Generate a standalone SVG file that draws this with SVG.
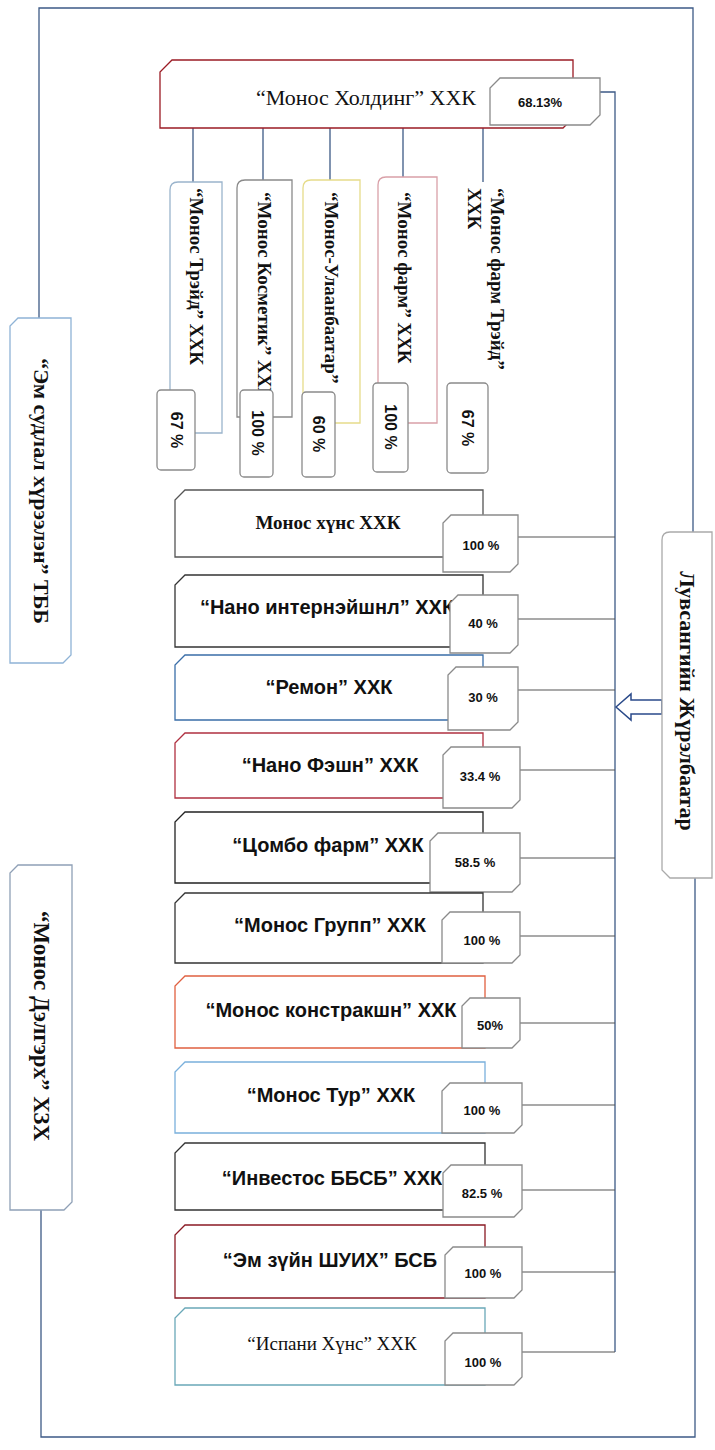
<svg xmlns="http://www.w3.org/2000/svg" width="715" height="1450" viewBox="0 0 715 1450">
<style>
.nb{fill:#fff;stroke-width:1.3}
.pb{fill:#fff;stroke:#8a8a8a;stroke-width:1.3}
.ln{fill:none;stroke:#3d5a86;stroke-width:1.3}
.lg{fill:none;stroke:#555;stroke-width:1.2}
.ls{font-family:"Liberation Sans",Arial,sans-serif;font-weight:bold;font-size:20px;fill:#111;text-anchor:middle;dominant-baseline:central}
.sr{font-family:"Liberation Serif","Times New Roman",serif;font-weight:bold;fill:#111}
.srn{font-family:"Liberation Serif","Times New Roman",serif;font-weight:normal;fill:#111}
.pc{font-family:"Liberation Sans",Arial,sans-serif;font-weight:bold;font-size:13px;fill:#111;text-anchor:middle;dominant-baseline:central}
.vp{font-family:"Liberation Sans",Arial,sans-serif;font-weight:bold;font-size:16px;fill:#111;text-anchor:middle;dominant-baseline:central}
</style>
<g id="connectors">
<path class="ln" d="M39,318 V8 H693 V532"/>
<path class="ln" d="M695,878 V1437 H41 V1210"/>
<path class="ln" d="M600,92 H615 V1352"/>
<path class="ln" d="M193,128 V182 M263,128 V180 M330,128 V180 M403,128 V177 M483,128 V182"/>
<path class="lg" d="M518,537 H615 M518,619 H615 M518,690 H615 M520,770 H615 M520,858 H615 M520,936 H615 M520,1023 H615 M522,1105 H615 M522,1190 H615 M522,1272 H615 M522,1352 H615"/>
<polygon points="616,707 631,694 631,700 662,700 662,714 631,714 631,720" fill="#fff" stroke="#2a4a8a" stroke-width="1.5"/>
</g>
<g id="monos-holding">
<path class="nb" d="M172,60 H573 V118 L563,128 H160 V72 Z" stroke="#9b1b24" stroke-width="2"/>
<text class="srn" x="366" y="97" font-size="22" text-anchor="middle" dominant-baseline="central">“Монос Холдинг” ХХК</text>
<path class="pb" d="M500,78 H600 V115 L590,125 H490 V88 Z"/>
<text x="540" y="102" class="pc" font-size="15">68.13%</text>
</g>
<g id="monos-treid">
<path class="nb" stroke="#9ab4cc" d="M170,190 Q170,182 178,182 H222 V433 H170 Z"/>
<text class="sr" font-size="19" transform="translate(196,188) rotate(90)" dominant-baseline="central">“Монос Трэйд” ХХК</text>
<rect class="pb" stroke="#7aa2c8" x="157" y="390" width="38" height="80" rx="4"/>
<text class="vp" transform="translate(176,430) rotate(90)">67 %</text>
</g>
<g id="monos-kosmetik">
<path class="nb" stroke="#8a8a8a" d="M237,188 Q237,180 245,180 H292 V417 H237 Z"/>
<text class="sr" font-size="19" transform="translate(264,192) rotate(90)" dominant-baseline="central">“Монос Косметик” ХХК</text>
<rect class="pb" stroke="#7aa2c8" x="240" y="390" width="33" height="87" rx="4"/>
<text class="vp" transform="translate(257,433) rotate(90)">100 %</text>
</g>
<g id="monos-ulaanbaatar">
<path class="nb" stroke="#e6dc8a" d="M303,188 Q303,180 311,180 H360 V423 H303 Z"/>
<text class="sr" font-size="19" transform="translate(331,192) rotate(90)" dominant-baseline="central">“Монос-Улаанбаатар”</text>
<rect class="pb" stroke="#7aa2c8" x="302" y="392" width="33" height="85" rx="4"/>
<text class="vp" transform="translate(318,434) rotate(90)">60 %</text>
</g>
<g id="monos-farm">
<path class="nb" stroke="#d9a0a8" d="M378,185 Q378,177 386,177 H437 V423 H378 Z"/>
<text class="sr" font-size="19" transform="translate(404,192) rotate(90)" dominant-baseline="central">“Монос фарм” ХХК</text>
<rect class="pb" stroke="#7aa2c8" x="373" y="383" width="35" height="89" rx="4"/>
<text class="vp" transform="translate(390,427) rotate(90)">100 %</text>
</g>
<g id="monos-farm-treid">
<text class="sr" font-size="19" transform="translate(497,188) rotate(90)" dominant-baseline="central">“Монос фарм Трэйд”</text>
<text class="sr" font-size="19" transform="translate(474,188) rotate(90)" dominant-baseline="central">ХХК</text>
<rect class="pb" stroke="#7aa2c8" x="447" y="383" width="41" height="90" rx="4"/>
<text class="vp" transform="translate(467,428) rotate(90)">67 %</text>
</g>
<g id="em-sudlal">
<path class="nb" stroke="#8fb3d6" d="M18,318 H71 V655 L63,663 H10 V326 Z"/>
<text class="sr" font-size="22" transform="translate(41,491) rotate(90)" text-anchor="middle" dominant-baseline="central">“Эм судлал хүрээлэн” ТББ</text>
</g>
<g id="monos-delgerekh">
<path class="nb" stroke="#8fa0b6" d="M18,865 H72 V1202 L64,1210 H10 V873 Z"/>
<text class="sr" font-size="23" transform="translate(41,1026) rotate(90)" text-anchor="middle" dominant-baseline="central">“Монос Дэлгэрх” ХЗХ</text>
</g>
<g id="luvsan">
<path class="nb" stroke="#aaa" d="M670,532 H712 V878 H670 L662,870 V540 Q662,532 670,532 Z"/>
<text class="sr" font-size="22" transform="translate(687,701) rotate(90)" text-anchor="middle" dominant-baseline="central">Лувсангийн Жүрэлбаатар</text>
</g>
<g id="n1">
<path class="nb" stroke="#555" d="M185,490 H483 V557 H175 V500 Z"/>
<text class="sr" x="328" y="522" font-size="19" text-anchor="middle" dominant-baseline="central">Монос хүнс ХХК</text>
<path class="pb" d="M451,515 H518 V564 L510,572 H443 V523 Z"/>
<text class="pc" x="481" y="545">100 %</text>
</g>
<g id="n2">
<path class="nb" stroke="#333" d="M185,575 H483 V647 H175 V585 Z"/>
<text class="ls" x="327" y="607">“Нано интернэйшнл” ХХК</text>
<path class="pb" stroke="#444" d="M458,595 H518 V645 L510,653 H450 V603 Z"/>
<text class="pc" x="483" y="623">40 %</text>
</g>
<g id="n3">
<path class="nb" stroke="#3a6ea8" d="M185,655 H483 V720 H175 V665 Z"/>
<text class="ls" x="329" y="687">“Ремон” ХХК</text>
<path class="pb" stroke="#3a6ea8" d="M456,667 H518 V722 L510,730 H448 V675 Z"/>
<text class="pc" x="483" y="697">30 %</text>
</g>
<g id="n4">
<path class="nb" stroke="#b03040" d="M185,733 H483 V798 H175 V743 Z"/>
<text class="ls" x="330" y="765">“Нано Фэшн”  ХХК</text>
<path class="pb" d="M451,747 H520 V800 L512,808 H443 V755 Z"/>
<text class="pc" x="480" y="776">33.4 %</text>
</g>
<g id="n5">
<path class="nb" stroke="#222" d="M185,812 H483 V883 H175 V822 Z"/>
<text class="ls" x="328" y="845">“Цомбо фарм”  ХХК</text>
<path class="pb" stroke="#444" d="M438,833 H520 V884 L512,892 H430 V841 Z"/>
<text class="pc" x="475" y="862">58.5 %</text>
</g>
<g id="n6">
<path class="nb" stroke="#333" d="M185,893 H483 V963 H175 V903 Z"/>
<text class="ls" x="330" y="925">“Монос Групп”  ХХК</text>
<path class="pb" d="M450,912 H520 V955 L512,963 H442 V920 Z"/>
<text class="pc" x="482" y="940">100 %</text>
</g>
<g id="n7">
<path class="nb" stroke="#e06040" d="M185,976 H485 V1048 H175 V986 Z"/>
<text class="ls" x="331" y="1010">“Монос констракшн”  ХХК</text>
<path class="pb" stroke="#e0a070" d="M470,998 H520 V1040 L512,1048 H462 V1006 Z"/>
<text class="pc" x="490" y="1025">50%</text>
</g>
<g id="n8">
<path class="nb" stroke="#7ab0dc" d="M185,1062 H485 V1133 H175 V1072 Z"/>
<text class="ls" x="331" y="1095">“Монос Тур”  ХХК</text>
<path class="pb" stroke="#7ab0dc" d="M450,1083 H522 V1125 L514,1133 H442 V1091 Z"/>
<text class="pc" x="482" y="1110">100 %</text>
</g>
<g id="n9">
<path class="nb" stroke="#333" d="M185,1143 H485 V1210 H175 V1153 Z"/>
<text class="ls" x="332" y="1178">“Инвестос ББСБ”  ХХК</text>
<path class="pb" stroke="#555" d="M451,1165 H522 V1209 L514,1217 H443 V1173 Z"/>
<text class="pc" x="482" y="1193">82.5 %</text>
</g>
<g id="n10">
<path class="nb" stroke="#8a1a24" d="M185,1225 H485 V1298 H175 V1235 Z"/>
<text class="ls" x="330" y="1260">“Эм зүйн ШУИХ”  БСБ</text>
<path class="pb" stroke="#8a3a44" d="M453,1247 H522 V1290 L514,1298 H445 V1255 Z"/>
<text class="pc" x="483" y="1273">100 %</text>
</g>
<g id="n11">
<path class="nb" stroke="#6aa8b8" d="M185,1308 H485 V1385 H175 V1318 Z"/>
<text class="srn" x="332" y="1343" font-size="19" text-anchor="middle" dominant-baseline="central">“Испани Хүнс”  ХХК</text>
<path class="pb" stroke="#555" d="M453,1333 H522 V1377 L514,1385 H445 V1341 Z"/>
<text class="pc" x="483" y="1362">100 %</text>
</g>
</svg>
